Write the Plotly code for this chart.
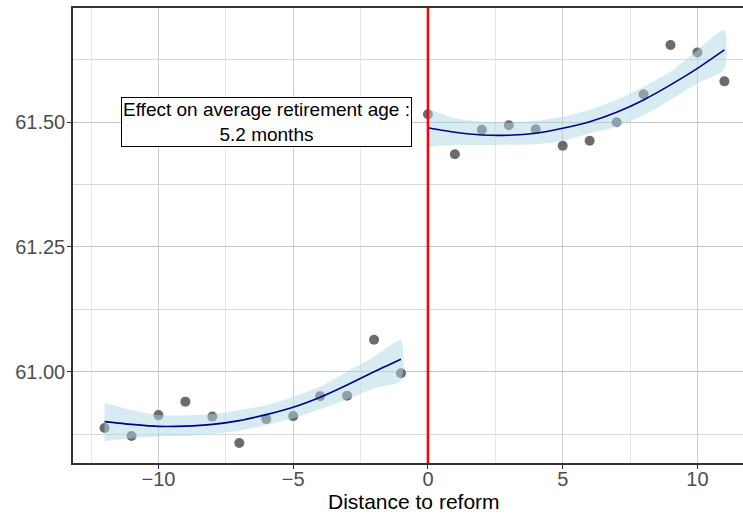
import plotly.graph_objects as go

# ---- data ----
x_left = [-12, -11, -10, -9, -8, -7, -6, -5, -4, -3, -2, -1]
y_left = [60.887, 60.871, 60.913, 60.940, 60.910, 60.857, 60.905, 60.911, 60.951, 60.952, 61.064, 60.997]
fit_left = [60.900, 60.8945, 60.8905, 60.891, 60.8945, 60.902, 60.914, 60.9286, 60.9487, 60.9733, 61.000, 61.025]
up_left = [60.938, 60.923, 60.913, 60.912, 60.915, 60.923, 60.933, 60.950, 60.970, 61.000, 61.030, 61.0635]
lo_left = [60.861, 60.8665, 60.870, 60.871, 60.875, 60.8817, 60.893, 60.9066, 60.9246, 60.9447, 60.9667, 60.982]

x_right = [0, 1, 2, 3, 4, 5, 6, 7, 8, 9, 10, 11]
y_right = [61.516, 61.436, 61.485, 61.494, 61.486, 61.453, 61.463, 61.500, 61.556, 61.655, 61.640, 61.582]
fit_right = [61.489, 61.480, 61.4745, 61.474, 61.478, 61.488, 61.501, 61.520, 61.5447, 61.5748, 61.608, 61.645]
up_right = [61.527, 61.508, 61.501, 61.499, 61.503, 61.511, 61.525, 61.545, 61.5714, 61.6014, 61.645, 61.685]
lo_right = [61.451, 61.4545, 61.4545, 61.455, 61.456, 61.4625, 61.478, 61.491, 61.5146, 61.5447, 61.578, 61.606]

x_ticks = [-10, -5, 0, 5, 10]
y_ticks = [61.00, 61.25, 61.50]
label_text = ["Effect on average retirement age :", "5.2 months"]
label_pos = (-6, 61.5)
x_title = "Distance to reform"

FONT = "Liberation Sans, Arial, sans-serif"
fig = go.Figure()

# points
for xs, ys in [(x_left, y_left), (x_right, y_right)]:
    fig.add_trace(go.Scatter(x=xs, y=ys, mode="markers",
                             marker=dict(size=10, color="#6b6b6b", line=dict(width=0)),
                             showlegend=False, hoverinfo="skip"))

# ribbons
for xs, up, lo in [(x_left, up_left, lo_left), (x_right, up_right, lo_right)]:
    fig.add_trace(go.Scatter(x=xs + xs[::-1], y=up + lo[::-1], mode="lines",
                             fill="toself", fillcolor="rgba(173,216,230,0.5)",
                             line=dict(width=0, shape="spline", smoothing=0.6),
                             showlegend=False, hoverinfo="skip"))

# fitted lines
for xs, fit in [(x_left, fit_left), (x_right, fit_right)]:
    fig.add_trace(go.Scatter(x=xs, y=fit, mode="lines",
                             line=dict(color="#00008B", width=1.6, shape="spline", smoothing=0.6),
                             showlegend=False, hoverinfo="skip"))

# red line at 0
fig.add_shape(type="line", xref="x", yref="paper", x0=0, x1=0, y0=0, y1=1,
              line=dict(color="#FF0000", width=2.5), layer="above")

fig.add_annotation(x=label_pos[0], y=label_pos[1], xref="x", yref="y",
                   text="<br>".join(label_text), showarrow=False,
                   font=dict(family=FONT, size=19, color="black"),
                   bgcolor="white", bordercolor="black", borderwidth=1, borderpad=1,
                   xanchor="center", yanchor="middle", align="center")

# x-axis title placed as annotation for exact position
fig.add_annotation(x=0.509, y=-0.084, xref="paper", yref="paper", text=x_title,
                   showarrow=False, font=dict(family=FONT, size=21, color="black"),
                   xanchor="center", yanchor="middle")

fig.update_layout(
    width=743, height=514,
    margin=dict(l=73, r=0, t=8, b=51),
    plot_bgcolor="white", paper_bgcolor="white",
    font=dict(family=FONT),
)

fig.update_xaxes(
    range=[-13.17, 11.69], tickvals=x_ticks, ticks="outside", ticklen=4,
    tickcolor="#333333", tickwidth=1, ticklabelstandoff=-7,
    tickfont=dict(size=20, color="#4d4d4d"),
    showline=True, linecolor="#333333", linewidth=1.5, mirror=True,
    showgrid=True, gridcolor="#cfcfcf", gridwidth=1,
    minor=dict(dtick=2.5, tick0=0, showgrid=True, gridcolor="#e6e6e6", gridwidth=1),
    zeroline=False,
)
fig.update_yaxes(
    range=[60.817, 61.729], tickvals=y_ticks, tickformat=".2f", ticks="outside", ticklen=4,
    tickcolor="#333333", tickwidth=1, ticklabelstandoff=-2,
    tickfont=dict(size=20, color="#4d4d4d"),
    showline=True, linecolor="#333333", linewidth=1.5, mirror=False,
    showgrid=True, gridcolor="#c4c4c4", gridwidth=1,
    minor=dict(dtick=0.125, tick0=61.0, showgrid=True, gridcolor="#d9d9d9", gridwidth=1),
    zeroline=False,
)

fig.write_html("out.html")
